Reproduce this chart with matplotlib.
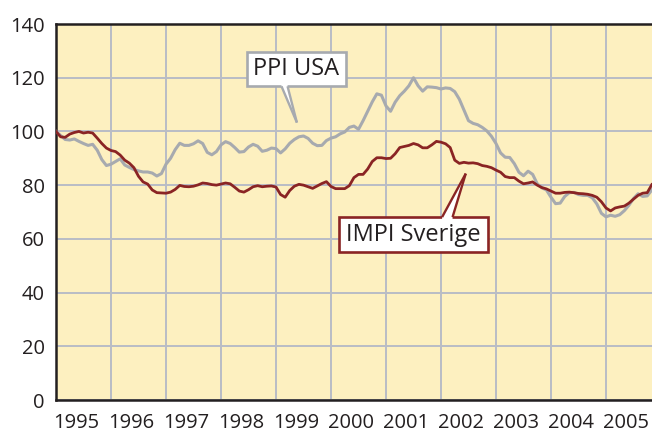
import matplotlib
matplotlib.use("Agg")
import matplotlib.pyplot as plt
import matplotlib.transforms as mtransforms
from matplotlib.patches import Rectangle, Polygon
import numpy as np

plt.rcParams['font.family'] = ['Open Sans', 'DejaVu Sans']

# ---- data (monthly, from Jan 1995) ----
start_year = 1995
ppi_usa = [
    100.0, 98.5, 97.0, 96.8, 97.2, 96.3, 95.5, 94.8, 95.2, 93.0, 89.5, 87.3,
    87.8, 88.8, 89.8, 87.5, 86.6, 85.8, 85.3, 84.9, 84.9, 84.5, 83.4, 84.3,
    87.8, 90.0, 93.2, 95.6, 94.8, 94.8, 95.4, 96.5, 95.5, 92.2, 91.3, 92.5,
    95.0, 96.2, 95.5, 94.0, 92.3, 92.5, 94.2, 95.2, 94.5, 92.6, 93.0, 93.8,
    93.6, 92.0, 93.5, 95.6, 97.0, 98.0, 98.3, 97.4, 95.6, 94.7, 94.8, 96.6,
    97.5, 98.0, 99.1, 99.8, 101.5, 102.0, 100.8, 104.0, 107.5, 111.0, 114.0, 113.5,
    109.5, 107.5, 110.9, 113.3, 115.0, 117.0, 120.0, 117.0, 115.0, 116.6, 116.5, 116.3,
    115.8, 116.2, 116.0, 114.8, 112.0, 108.0, 104.0, 103.0, 102.5, 101.5, 100.2, 98.2,
    95.5, 92.0, 90.4, 90.3, 88.0, 84.8, 83.5, 85.2, 84.0, 80.5, 79.0, 78.2,
    75.5, 73.1, 73.3, 75.8, 77.2, 77.3, 76.5, 76.2, 76.2, 75.3, 73.0, 69.5,
    68.2, 68.8, 68.4, 69.0, 70.5, 72.5, 75.0, 76.8, 75.8, 76.0, 78.2,
]
impi_sverige = [
    100.0, 98.0, 97.8, 99.0, 99.6, 100.0, 99.4, 99.7, 99.4, 97.5, 95.5, 93.8,
    92.9, 92.5, 91.2, 89.3, 88.2, 86.5, 83.3, 81.2, 80.4, 78.2, 77.2, 77.1,
    77.0, 77.4, 78.4, 79.9, 79.5, 79.4, 79.6, 80.1, 80.8, 80.6, 80.2, 80.0,
    80.4, 80.8, 80.5, 79.2, 77.8, 77.4, 78.3, 79.4, 79.8, 79.4, 79.6, 79.7,
    79.3, 76.5, 75.5, 78.0, 79.6, 80.3, 80.0, 79.4, 78.8, 79.7, 80.6, 81.3,
    79.5, 78.7, 78.7, 78.7, 79.8, 82.8, 84.0, 84.0, 86.0, 88.8, 90.2, 90.2,
    89.9, 90.0, 91.7, 94.0, 94.4, 94.8, 95.5, 95.0, 93.9, 93.9, 95.0, 96.3,
    96.0, 95.4, 94.0, 89.3, 88.1, 88.5, 88.2, 88.3, 88.0, 87.3, 87.0, 86.5,
    85.6, 84.8, 83.2, 82.8, 82.8, 81.5, 80.5, 80.8, 81.2, 80.0, 79.1, 78.6,
    77.8, 77.0, 77.0, 77.3, 77.4, 77.2, 76.9, 76.8, 76.6, 76.2, 75.5, 73.8,
    71.5, 70.4, 71.5, 71.9, 72.2, 73.3, 74.8, 76.2, 77.0, 77.2, 80.2,
]
year_labels = ['1995', '1996', '1997', '1998', '1999', '2000',
               '2001', '2002', '2003', '2004', '2005']
y_ticks = [0, 20, 40, 60, 80, 100, 120, 140]
label_ppi = 'PPI USA'
label_impi = 'IMPI Sverige'

# ---- style ----
bg = '#FDF0C0'
grid_c = '#B9BCC6'
grey_c = '#A7AAAF'
red_c = '#8A2424'
dark = '#231F20'

t = start_year + np.arange(len(ppi_usa)) / 12.0

fig = plt.figure(figsize=(6.52, 4.36), dpi=100)
ax = fig.add_axes([56/652, 1-400/436, (652-56)/652, (400-24)/436])
ax.set_facecolor(bg)

ax.plot(t, ppi_usa, color=grey_c, lw=2.2, zorder=3, solid_joinstyle='round')
ax.plot(t, impi_sverige, color=red_c, lw=2.0, zorder=4, solid_joinstyle='round')

ax.set_xlim(1995, 1995 + (652-56)/55)
ax.set_ylim(0, 140)

years = [int(y) for y in year_labels]
ax.set_xticks(years)
ax.set_xticklabels(year_labels)
ax.set_yticks(y_ticks)
ax.set_yticklabels([str(v) for v in y_ticks])
ax.tick_params(axis='both', length=0, labelsize=14.5, colors=dark)
ax.tick_params(axis='x', pad=9)
ax.tick_params(axis='y', pad=8)
off = mtransforms.ScaledTranslation(-3/100, 0, fig.dpi_scale_trans)
for lab in ax.get_xticklabels():
    lab.set_horizontalalignment('left')
    lab.set_transform(lab.get_transform() + off)

ax.grid(True, color=grid_c, lw=1.4, zorder=1)
ax.set_axisbelow(True)
for s in ['left', 'bottom', 'top']:
    ax.spines[s].set_linewidth(1.8)
    ax.spines[s].set_color(dark)
ax.spines['right'].set_visible(False)


def callout(x0, x1, y0, y1, base_l, base_r, base_y, inside_y, tip, color, text):
    ax.add_patch(Rectangle((x0, y0), x1-x0, y1-y0, facecolor='white',
                           edgecolor=color, lw=1.9, zorder=6))
    ax.add_patch(Polygon([(base_l, inside_y), (base_l, base_y), tip,
                          (base_r, base_y), (base_r, inside_y)],
                         closed=True, facecolor='white', edgecolor='none', zorder=7))
    ax.plot([base_l, tip[0]], [base_y, tip[1]], color=color, lw=1.7, zorder=8,
            solid_capstyle='butt')
    ax.plot([base_r, tip[0]], [base_y, tip[1]], color=color, lw=1.7, zorder=8,
            solid_capstyle='butt')
    ax.text((x0+x1)/2, (y0+y1)/2, text, ha='center', va='center',
            fontsize=17, color=dark, zorder=9)


# PPI USA callout (box above, wedge pointing down)
callout(1998.467, 2000.267, 116.8, 129.7,
        1999.10, 1999.21, 116.8, 117.7, (1999.38, 103.3), grey_c, label_ppi)
# IMPI Sverige callout (box below, wedge pointing up)
callout(2000.145, 2002.855, 55.1, 68.1,
        2002.02, 2002.21, 68.1, 67.2, (2002.45, 84.3), red_c, label_impi)

fig.savefig('out.png', dpi=100, facecolor='white')
